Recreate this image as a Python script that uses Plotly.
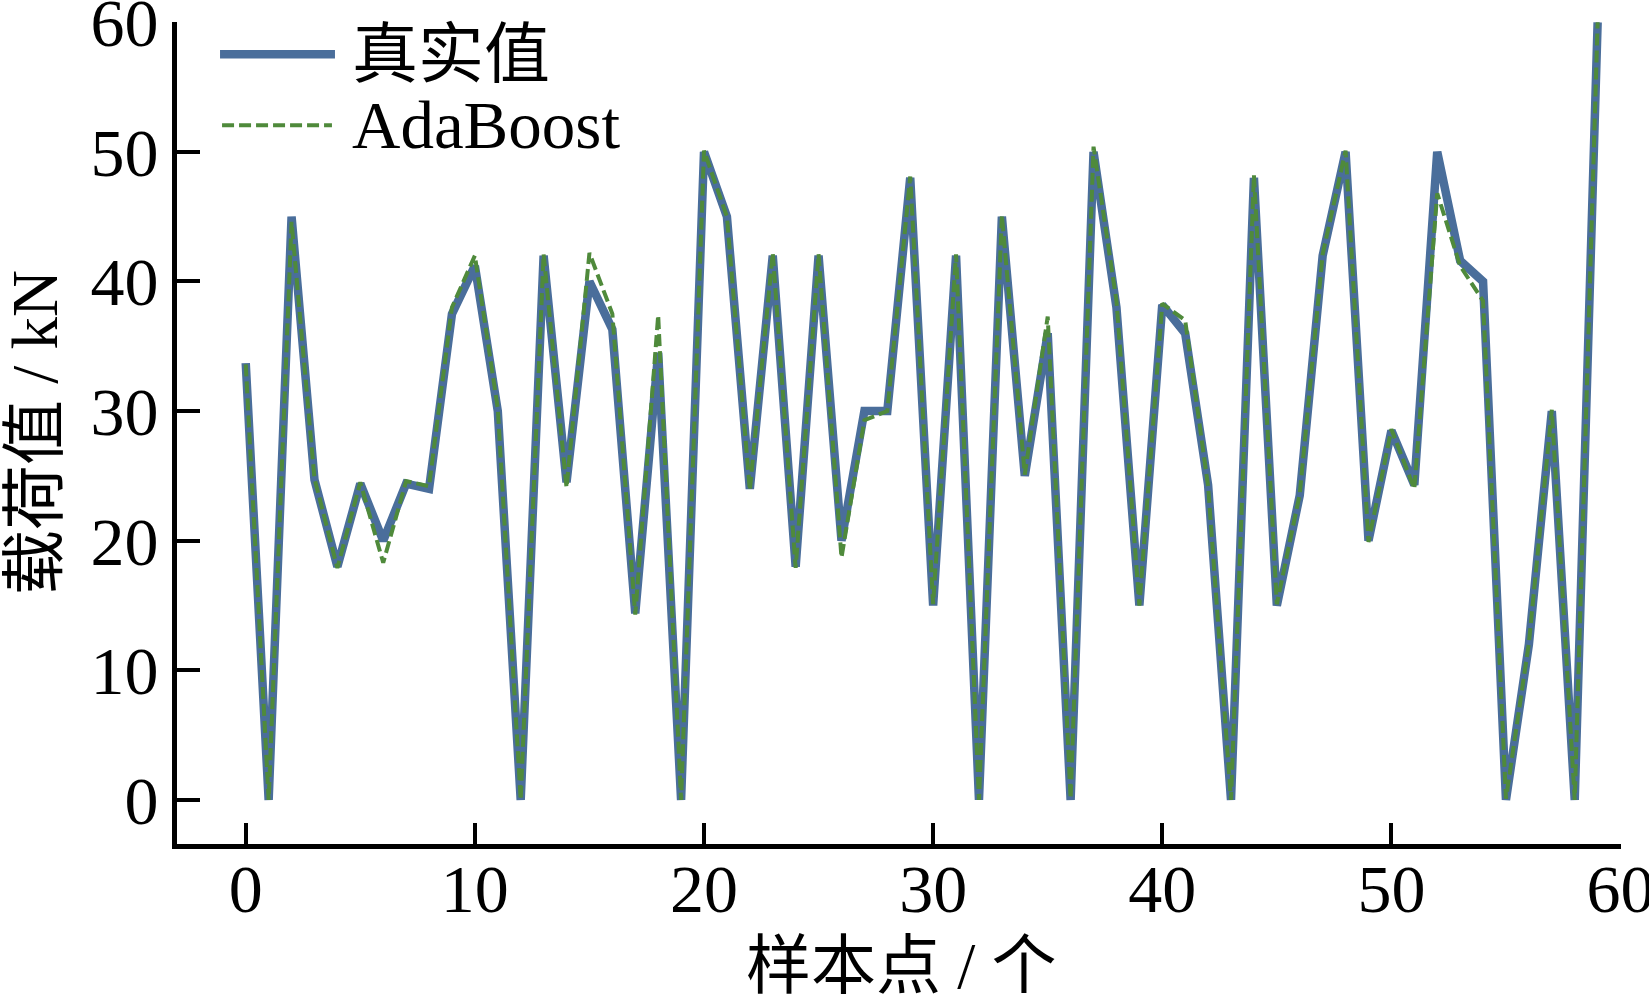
import plotly.graph_objects as go

sample_idx = list(range(60))

true_vals = [33.7, 0, 45, 24.7, 18, 24.4, 20, 24.4, 24, 37.5,
             41.2, 30, 0, 42, 24.5, 40, 36.3, 14.4, 34.5, 0,
             50, 45, 24, 42, 18, 42, 20, 30, 30, 48,
             15, 42, 0, 45, 25, 36, 0, 50, 38, 15,
             38.2, 36, 24.3, 0, 48, 15, 23.5, 42, 50, 20,
             28.5, 24.3, 50, 41.6, 40, 0, 12, 30, 0, 60]

ada_vals = [33.6, 0, 44.6, 24.8, 17.9, 24.5, 18.3, 24.6, 24.2, 38,
            42, 30.2, 0, 42.1, 24.1, 42.2, 37.5, 14.3, 37.4, 0,
            50.1, 45, 23.9, 42.2, 17.9, 42.1, 18.7, 29.3, 30, 48.1,
            15.1, 42.1, 0, 45.1, 25.1, 37.3, 0.1, 50.4, 38.5, 15,
            38.3, 37, 24.2, 0, 48.2, 15.1, 23.6, 42.1, 50.1, 19.9,
            28.6, 24, 46.8, 41.2, 38.5, 0.1, 12.1, 30.1, 0, 60]

legend_names = ["真实值", "AdaBoost"]
x_title = "样本点 / 个"
y_title = "载荷值 / kN"
x_ticks = [0, 10, 20, 30, 40, 50, 60]
y_ticks = [0, 10, 20, 30, 40, 50, 60]

BLUE = "#4A6E9B"
GREEN = "#4F8A3B"
FONT = "Liberation Serif, Times New Roman, Noto Sans CJK SC, serif"

fig = go.Figure()
fig.add_trace(go.Scatter(x=sample_idx, y=true_vals, mode="lines", name=legend_names[0],
                         line=dict(color=BLUE, width=8.5), showlegend=False))
fig.add_trace(go.Scatter(x=sample_idx, y=ada_vals, mode="lines", name=legend_names[1],
                         line=dict(color=GREEN, width=4, dash="12px,5px"), showlegend=False))

# custom legend (samples + labels) in paper coordinates
fig.add_shape(type="line", xref="paper", yref="paper", x0=0.0298, x1=0.1094, y0=0.9607, y1=0.9607,
              line=dict(color=BLUE, width=8.5))
fig.add_shape(type="line", xref="paper", yref="paper", x0=0.0312, x1=0.1073, y0=0.8744, y1=0.8744,
              line=dict(color=GREEN, width=4, dash="12px,5px"))
fig.add_annotation(xref="paper", yref="paper", x=0.1198, y=0.9607, text=legend_names[0],
                   showarrow=False, xanchor="left", yanchor="middle",
                   font=dict(family=FONT, size=66, color="black"))
fig.add_annotation(xref="paper", yref="paper", x=0.1198, y=0.8744, text=legend_names[1],
                   showarrow=False, xanchor="left", yanchor="middle",
                   font=dict(family=FONT, size=67, color="black"))

# axis titles
fig.add_annotation(xref="paper", yref="paper", x=0.5016, y=-0.1480, text=x_title,
                   showarrow=False, xanchor="center", yanchor="middle",
                   font=dict(family=FONT, size=65, color="black"))
fig.add_annotation(xref="paper", yref="paper", x=-0.0985, y=0.501, text=y_title,
                   showarrow=False, xanchor="center", yanchor="middle", textangle=-90,
                   font=dict(family=FONT, size=65, color="black"))

fig.update_layout(
    width=1649, height=998,
    margin=dict(l=177, r=28, t=22, b=154, autoexpand=False),
    paper_bgcolor="white", plot_bgcolor="white",
    font=dict(family=FONT, size=68, color="black"),
)
fig.update_xaxes(
    range=[-3, 60.02], tickvals=x_ticks, ticks="inside", ticklen=21, tickwidth=4,
    tickcolor="black", showline=True, linecolor="black", linewidth=5,
    showgrid=False, zeroline=False, mirror=False, automargin=False,
    ticklabeloverflow="allow", ticklabelstandoff=-19,
    tickfont=dict(family=FONT, size=68),
)
fig.update_yaxes(
    range=[-3.4, 60.02], tickvals=y_ticks, ticks="inside", ticklen=23, tickwidth=4,
    tickcolor="black", showline=True, linecolor="black", linewidth=5,
    showgrid=False, zeroline=False, mirror=False, automargin=False,
    ticklabeloverflow="allow",
    tickfont=dict(family=FONT, size=68),
)

# remove the default 8px page margin so the figure sits at the window's corner
fig.write_html("out.html", config={"displayModeBar": False},
               post_script="document.body.style.margin='0px';document.body.style.padding='0px';")
